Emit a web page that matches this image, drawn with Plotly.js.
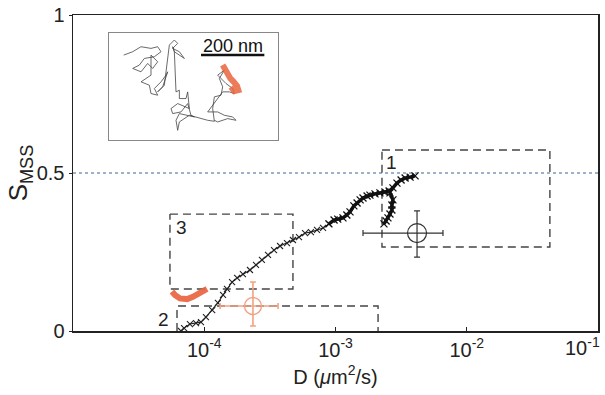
<!DOCTYPE html>
<html>
<head>
<meta charset="utf-8">
<script src="https://cdn.plot.ly/plotly-3.0.1.min.js"></script>
<style>html,body{margin:0;padding:0;background:#fff;}#chart{width:605px;height:395px;}</style>
</head>
<body>
<div id="chart"></div>
<script>
// ---- data ----
// main black S_MSS vs D curve (sparse lower part)
var curveD = [6.65e-5,7.02e-5,7.78e-5,8.65e-5,9.44e-5,1.03e-4,1.15e-4,1.27e-4,1.39e-4,1.49e-4,1.63e-4,1.78e-4,1.97e-4,2.23e-4,2.48e-4,2.75e-4,3.06e-4,3.40e-4,3.78e-4,4.27e-4,4.74e-4,5.27e-4,5.86e-4,6.50e-4,7.23e-4,8.04e-4,8.91e-4];
var curveS = [0.000,0.009,0.022,0.025,0.028,0.044,0.066,0.089,0.114,0.133,0.155,0.168,0.180,0.193,0.209,0.225,0.241,0.256,0.269,0.278,0.288,0.297,0.310,0.313,0.320,0.326,0.339];
// dense upper part
var denseD = [8.91e-4,9.75e-4,1.04e-3,1.14e-3,1.22e-3,1.29e-3,1.38e-3,1.46e-3,1.54e-3,1.62e-3,1.74e-3,1.83e-3,2.00e-3,2.18e-3,2.38e-3,2.56e-3,2.74e-3,2.94e-3,3.16e-3,3.39e-3,3.70e-3,4.04e-3];
var denseS = [0.339,0.351,0.354,0.358,0.367,0.377,0.396,0.405,0.415,0.421,0.427,0.430,0.434,0.437,0.440,0.443,0.453,0.468,0.478,0.484,0.487,0.491];
// lower branch of dense part
var branchD = [2.60e-3,2.74e-3,2.69e-3,2.69e-3,2.60e-3,2.51e-3,2.43e-3,2.34e-3];
var branchS = [0.437,0.415,0.399,0.383,0.370,0.358,0.348,0.339];
// orange (confined) segment
var redD = [5.68e-5,5.98e-5,6.53e-5,7.40e-5,8.20e-5,9.29e-5,1.05e-4];
var redS = [0.125,0.114,0.103,0.101,0.108,0.123,0.133];
// mean +- spread crosses
var meanBlack = {D:4.18e-3, S:0.310, dMinus:2.56e-3, dPlus:2.41e-3, sMinus:0.076, sPlus:0.070};
var meanRed = {D:2.35e-4, S:0.079, dMinus:1.03e-4, dPlus:1.30e-4, sMinus:0.063, sPlus:0.076};
// dashed region boxes [Dmin, Dmax, Smin, Smax]
var box1 = [2.26e-3, 4.3e-2, 0.266, 0.573];
var box2 = [6.2e-5, 2.11e-3, 0.0, 0.079];
var box3 = [5.48e-5, 4.74e-4, 0.133, 0.370];
var threshold = 0.5;
// inset trajectory (inset pixel units)
var trajX = [48,75,100,130,150,160,140,110,95,75,100,120,135,150,130,130,100,125,130,150,140,160,175,180,165,150,170,185,200,210,195,215,230,200,195,200,205,215,215,235,240,245,210,190,195,220,240,250,260,235,215,205,210,215,245,300,320,315,320,340,345,335,350,330,355,375,380,365,345,300,330,350,375,385,360,330,320];
var trajY = [70,60,45,50,45,60,75,80,100,110,120,95,110,90,70,130,150,160,185,190,170,150,130,120,165,180,160,40,25,35,50,60,80,60,45,60,180,175,200,200,180,230,215,230,245,240,215,250,255,250,245,265,295,270,250,265,268,230,195,190,165,140,115,130,155,170,185,180,180,240,240,250,255,265,260,270,265];
var trajRedX = [345,352,360,368,378,388,392,380,370];
var trajRedY = [100,115,128,140,150,162,175,178,165];
var xTickVals = [1e-4,1e-3,1e-2,1e-1];
var xTickText = ['10<sup>-4</sup>','10<sup>-3</sup>','10<sup>-2</sup>',''];
var lastTickLabel = '10<sup>-1</sup>';
var yTickVals = [0,0.5,1];
var yTickText = ['0','0.5','1'];

function boxTrace(b) {
  return {x:[b[0],b[1],b[1],b[0],b[0]], y:[b[3],b[3],b[2],b[2],b[3]], mode:'lines', type:'scatter',
    line:{color:'#444', width:1.4, dash:'8px,5px'}, hoverinfo:'skip', showlegend:false};
}
function box2Trace(b) {
  return {x:[b[0],b[0],b[1],b[1]], y:[b[2],b[3],b[3],b[2]], mode:'lines', type:'scatter',
    line:{color:'#444', width:1.4, dash:'8px,5px'}, hoverinfo:'skip', showlegend:false};
}

var traces = [
  {x:[1e-5,1e-1], y:[threshold,threshold], mode:'lines', line:{color:'#9db2c8', width:2, dash:'dot'}, hoverinfo:'skip', showlegend:false},
  boxTrace(box1),
  boxTrace(box3),
  box2Trace(box2),
  {x:curveD, y:curveS, mode:'lines+markers', line:{color:'#222', width:1.1},
    marker:{symbol:'x-thin', size:6, line:{color:'#222', width:1.1}}, showlegend:false},
  {x:denseD, y:denseS, mode:'lines+markers', line:{color:'#111', width:3.5},
    marker:{symbol:'x-thin', size:7, line:{color:'#111', width:1.3}}, showlegend:false},
  {x:branchD, y:branchS, mode:'lines+markers', line:{color:'#111', width:3.5},
    marker:{symbol:'x-thin', size:7, line:{color:'#111', width:1.3}}, showlegend:false},
  {x:redD, y:redS, mode:'lines', line:{color:'rgba(232,96,60,0.9)', width:6}, showlegend:false},
  {x:[meanRed.D], y:[meanRed.S], mode:'markers', marker:{symbol:'circle-open', size:17, color:'#f2a283', line:{width:1.4, color:'#f2a283'}},
    error_x:{type:'data', symmetric:false, array:[meanRed.dPlus], arrayminus:[meanRed.dMinus], color:'#f2a283', thickness:1.6, width:3},
    error_y:{type:'data', symmetric:false, array:[meanRed.sPlus], arrayminus:[meanRed.sMinus], color:'#f2a283', thickness:1.6, width:3}, showlegend:false},
  {x:[meanBlack.D], y:[meanBlack.S], mode:'markers', marker:{symbol:'circle-open', size:19, color:'#333', line:{width:1.2, color:'#333'}},
    error_x:{type:'data', symmetric:false, array:[meanBlack.dPlus], arrayminus:[meanBlack.dMinus], color:'#333', thickness:1.2, width:3},
    error_y:{type:'data', symmetric:false, array:[meanBlack.sPlus], arrayminus:[meanBlack.sMinus], color:'#333', thickness:1.2, width:3}, showlegend:false},
  {x:trajX, y:trajY, xaxis:'x2', yaxis:'y2', mode:'lines', line:{color:'#444', width:0.8}, showlegend:false, hoverinfo:'skip'},
  {x:trajRedX, y:trajRedY, xaxis:'x2', yaxis:'y2', mode:'lines', line:{color:'rgba(232,100,60,0.85)', width:6}, showlegend:false, hoverinfo:'skip'}
];

var font = 'Liberation Sans, Arial, Helvetica, sans-serif';
var layout = {
  width:605, height:395,
  margin:{l:73, r:7, t:15, b:64},
  paper_bgcolor:'#fff', plot_bgcolor:'#fff',
  font:{family:font, color:'#222', size:20},
  xaxis:{type:'log', range:[-5,-1], tickvals:xTickVals, ticktext:xTickText, ticks:'inside', ticklen:4, tickcolor:'#222',
    showline:true, mirror:true, linecolor:'#222', linewidth:1.5, showgrid:false, zeroline:false,
    tickfont:{size:20, family:font, color:'#222'},
    title:{text:'D (<i>μ</i>m<sup>2</sup>/s)', font:{size:20, family:font, color:'#222'}, standoff:10}},
  yaxis:{range:[0,1], tickvals:yTickVals, ticktext:yTickText, ticks:'outside', ticklen:3, tickcolor:'#222',
    showline:true, mirror:true, linecolor:'#222', linewidth:1.5, showgrid:false, zeroline:false,
    tickfont:{size:20, family:font, color:'#222'},
    title:{text:'S<sub>MSS</sub>', font:{size:26, family:font, color:'#222'}, standoff:0}},
  xaxis2:{domain:[0.0686,0.3905], range:[4,511], anchor:'y2', showticklabels:false, ticks:'', showgrid:false, zeroline:false,
    showline:true, mirror:true, linecolor:'#888', linewidth:1},
  yaxis2:{domain:[0.6044,0.943], range:[324,4], anchor:'x2', showticklabels:false, ticks:'', showgrid:false, zeroline:false,
    showline:true, mirror:true, linecolor:'#888', linewidth:1},
  shapes:[
    {type:'line', xref:'x2', yref:'y2', x0:280, x1:470, y0:70, y1:70, line:{color:'#111', width:2.5}}
  ],
  annotations:[
    {xref:'paper', yref:'paper', x:1, y:0, xanchor:'right', yanchor:'top', xshift:4, yshift:-1, text:lastTickLabel, showarrow:false, font:{size:20, family:font, color:'#222'}},
    {xref:'x2', yref:'y2', x:375, y:44, text:'200 nm', showarrow:false, font:{size:18, family:font, color:'#111'}},
    {xref:'x', yref:'y', x:-2.57, y:0.532, text:'1', showarrow:false, font:{size:19, family:font, color:'#222'}},
    {xref:'x', yref:'y', x:-4.307, y:0.035, text:'2', showarrow:false, font:{size:19, family:font, color:'#222'}},
    {xref:'x', yref:'y', x:-4.17, y:0.326, text:'3', showarrow:false, font:{size:19, family:font, color:'#222'}}
  ]
};
Plotly.newPlot('chart', traces, layout, {staticPlot:true, displayModeBar:false});
</script>
</body>
</html>
